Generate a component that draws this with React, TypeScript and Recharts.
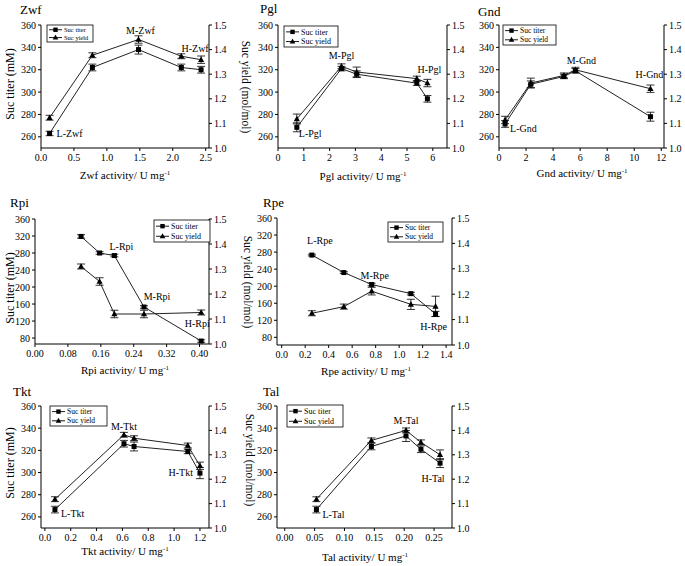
import React from 'react';
import { LineChart, Line, XAxis, YAxis, ErrorBar, LabelList } from 'recharts';

const FONT = '"Liberation Serif", "Times New Roman", Times, serif';

// ---------- data ----------
const zwfActivity = [0.13, 0.78, 1.48, 2.13, 2.43];
const zwfTiter = [263, 322, 338, 322, 320];
const zwfTiterErr = [2, 3, 4, 3, 3];
const zwfYield = [1.123, 1.377, 1.441, 1.373, 1.359];
const zwfYieldErr = [0.01, 0.01, 0.015, 0.01, 0.015];
const zwfLabels = ['L-Zwf', '', 'M-Zwf', '', 'H-Zwf'];
const zwfTicks = [0, 0.5, 1.0, 1.5, 2.0, 2.5];

const pglActivity = [0.73, 2.46, 3.05, 5.38, 5.79];
const pglTiter = [268.5, 321, 316, 308, 294];
const pglTiterErr = [4, 2, 3, 2, 3];
const pglYield = [1.118, 1.332, 1.309, 1.282, 1.264];
const pglYieldErr = [0.02, 0.01, 0.02, 0.01, 0.015];
const pglLabels = ['L-Pgl', 'M-Pgl', '', '', 'H-Pgl'];
const pglTicks = [0, 1, 2, 3, 4, 5, 6];

const gndActivity = [0.45, 2.35, 4.8, 5.65, 11.2];
const gndTiter = [271.5, 307, 314, 319, 278];
const gndTiterErr = [3, 3, 2, 2, 4];
const gndYield = [1.114, 1.264, 1.295, 1.318, 1.241];
const gndYieldErr = [0.015, 0.02, 0.01, 0.01, 0.015];
const gndLabels = ['L-Gnd', '', '', 'M-Gnd', 'H-Gnd'];
const gndTicks = [0, 2, 4, 6, 8, 10, 12];

const rpiActivity = [0.112, 0.157, 0.193, 0.265, 0.404];
const rpiTiter = [319, 280, 274, 153, 73];
const rpiTiterErr = [4, 3, 3, 3, 3];
const rpiYield = [1.31, 1.25, 1.12, 1.12, 1.126];
const rpiYieldErr = [0.01, 0.015, 0.015, 0.015, 0.01];
const rpiLabels = ['', '', 'L-Rpi', 'M-Rpi', 'H-Rpi'];
const rpiTicks = [0, 0.08, 0.16, 0.24, 0.32, 0.4];

const rpeActivity = [0.257, 0.529, 0.766, 1.1, 1.31];
const rpeTiter = [273, 232, 204, 182.5, 135];
const rpeTiterErr = [2, 2, 3, 3, 6];
const rpeYield = [1.125, 1.151, 1.212, 1.16, 1.152];
const rpeYieldErr = [0.01, 0.01, 0.015, 0.02, 0.04];
const rpeLabels = ['L-Rpe', '', 'M-Rpe', '', 'H-Rpe'];
const rpeTicks = [0, 0.2, 0.4, 0.6, 0.8, 1.0, 1.2, 1.4];

const tktActivity = [0.078, 0.612, 0.69, 1.106, 1.2];
const tktTiter = [266.6, 326, 323.5, 319, 299.5];
const tktTiterErr = [3, 3, 4, 2, 5];
const tktYield = [1.118, 1.382, 1.368, 1.338, 1.255];
const tktYieldErr = [0.01, 0.01, 0.01, 0.01, 0.015];
const tktLabels = ['L-Tkt', 'M-Tkt', '', '', 'H-Tkt'];
const tktTicks = [0, 0.2, 0.4, 0.6, 0.8, 1.0, 1.2];

const talActivity = [0.053, 0.145, 0.203, 0.228, 0.26];
const talTiter = [266.6, 323.5, 333, 321, 308.5];
const talTiterErr = [3, 3, 5, 3, 4];
const talYield = [1.118, 1.359, 1.4, 1.351, 1.3];
const talYieldErr = [0.01, 0.01, 0.01, 0.01, 0.02];
const talLabels = ['L-Tal', '', 'M-Tal', '', 'H-Tal'];
const talTicks = [0, 0.05, 0.1, 0.15, 0.2, 0.25];

const titerTicksA = [260, 280, 300, 320, 340, 360];
const titerTicksB = [80, 120, 160, 200, 240, 280, 320, 360];
const yieldTicks = [1.0, 1.1, 1.2, 1.3, 1.4, 1.5];

// ---------- label placement (relative to titer point) ----------
const labelOffsets: Record<string, { dx: number; dy: number; anchor: string }> = {
  'L-Zwf': { dx: 7, dy: 4, anchor: 'start' },
  'M-Zwf': { dx: 2, dy: -16, anchor: 'middle' },
  'H-Zwf': { dx: -6, dy: -18, anchor: 'middle' },
  'L-Pgl': { dx: 2, dy: 10, anchor: 'start' },
  'M-Pgl': { dx: 0, dy: -10, anchor: 'middle' },
  'H-Pgl': { dx: 2, dy: -26, anchor: 'middle' },
  'L-Gnd': { dx: 5, dy: 8, anchor: 'start' },
  'M-Gnd': { dx: 6, dy: -7, anchor: 'middle' },
  'H-Gnd': { dx: -1, dy: -39, anchor: 'middle' },
  'L-Rpi': { dx: 7, dy: -6, anchor: 'middle' },
  'M-Rpi': { dx: 13, dy: -7, anchor: 'middle' },
  'H-Rpi': { dx: -4, dy: -14, anchor: 'middle' },
  'L-Rpe': { dx: 8, dy: -11, anchor: 'middle' },
  'M-Rpe': { dx: 3, dy: -5, anchor: 'middle' },
  'H-Rpe': { dx: -2, dy: 16, anchor: 'middle' },
  'L-Tkt': { dx: 6, dy: 7, anchor: 'start' },
  'M-Tkt': { dx: 0, dy: -14, anchor: 'middle' },
  'H-Tkt': { dx: -7, dy: 3, anchor: 'end' },
  'L-Tal': { dx: 6, dy: 8, anchor: 'start' },
  'M-Tal': { dx: 0, dy: -12, anchor: 'middle' },
  'H-Tal': { dx: -7, dy: 19, anchor: 'middle' },
};

type Cfg = {
  name: string;
  activity: number[]; titer: number[]; titerErr: number[]; yld: number[]; yieldErr: number[]; labels: string[];
  xTicks: number[]; xDec: number; tTicks: number[];
  x0: number; y0: number; w: number; h: number; xDomain: [number, number]; tDomain: [number, number];
};

const panels: Cfg[] = [
  { name: 'Zwf', activity: zwfActivity, titer: zwfTiter, titerErr: zwfTiterErr, yld: zwfYield, yieldErr: zwfYieldErr, labels: zwfLabels, xTicks: zwfTicks, xDec: 1, tTicks: titerTicksA,
    x0: 41, y0: 25, w: 168, h: 123, xDomain: [0, 2.55], tDomain: [250, 360] },
  { name: 'Pgl', activity: pglActivity, titer: pglTiter, titerErr: pglTiterErr, yld: pglYield, yieldErr: pglYieldErr, labels: pglLabels, xTicks: pglTicks, xDec: 0, tTicks: titerTicksA,
    x0: 278, y0: 25, w: 169, h: 123, xDomain: [0, 6.55], tDomain: [250, 360] },
  { name: 'Gnd', activity: gndActivity, titer: gndTiter, titerErr: gndTiterErr, yld: gndYield, yieldErr: gndYieldErr, labels: gndLabels, xTicks: gndTicks, xDec: 0, tTicks: titerTicksA,
    x0: 499, y0: 25, w: 165, h: 123, xDomain: [0, 12.2], tDomain: [250, 360] },
  { name: 'Rpi', activity: rpiActivity, titer: rpiTiter, titerErr: rpiTiterErr, yld: rpiYield, yieldErr: rpiYieldErr, labels: rpiLabels, xTicks: rpiTicks, xDec: 2, tTicks: titerTicksB,
    x0: 35, y0: 219, w: 174, h: 125, xDomain: [0, 0.423], tDomain: [66, 360] },
  { name: 'Rpe', activity: rpeActivity, titer: rpeTiter, titerErr: rpeTiterErr, yld: rpeYield, yieldErr: rpeYieldErr, labels: rpeLabels, xTicks: rpeTicks, xDec: 1, tTicks: titerTicksB,
    x0: 277, y0: 218, w: 175, h: 127, xDomain: [-0.04, 1.45], tDomain: [62, 360] },
  { name: 'Tkt', activity: tktActivity, titer: tktTiter, titerErr: tktTiterErr, yld: tktYield, yieldErr: tktYieldErr, labels: tktLabels, xTicks: tktTicks, xDec: 1, tTicks: titerTicksA,
    x0: 41, y0: 406, w: 168, h: 122, xDomain: [-0.03, 1.27], tDomain: [250, 360] },
  { name: 'Tal', activity: talActivity, titer: talTiter, titerErr: talTiterErr, yld: talYield, yieldErr: talYieldErr, labels: talLabels, xTicks: talTicks, xDec: 2, tTicks: titerTicksA,
    x0: 277, y0: 406, w: 175, h: 122, xDomain: [-0.013, 0.28], tDomain: [250, 360] },
];

const axisStyle = { stroke: '#000', strokeWidth: 1 };
const tickStyle = { fontSize: 10, fill: '#000', fontFamily: FONT };

const Square = (p: any) => {
  if (p.cx == null || p.cy == null) return <g key={`s${p.index}`} />;
  return <rect key={`s${p.index}`} x={p.cx - 2.5} y={p.cy - 2.5} width={5} height={5} fill="#000" />;
};
const Tri = (p: any) => {
  if (p.cx == null || p.cy == null) return <g key={`t${p.index}`} />;
  return <path key={`t${p.index}`} d={`M${p.cx},${p.cy - 3.3}L${p.cx + 3.1},${p.cy + 2.3}L${p.cx - 3.1},${p.cy + 2.3}Z`} fill="#000" />;
};

const renderLabel = (p: any) => {
  const v = p.value;
  if (!v) return null;
  const o = labelOffsets[v];
  const vb = p.viewBox || {};
  const x = p.x ?? vb.x;
  const y = p.y ?? vb.y;
  return (
    <text key={v} x={x + o.dx} y={y + o.dy} textAnchor={o.anchor as any} fontSize={10} fontFamily={FONT} fill="#000">
      {v}
    </text>
  );
};

function Panel({ cfg }: { cfg: Cfg }) {
  const data = cfg.activity.map((a, i) => ({
    x: a, t: cfg.titer[i], te: cfg.titerErr[i], y: cfg.yld[i], ye: cfg.yieldErr[i], lbl: cfg.labels[i],
  }));
  return (
    <div style={{ position: 'absolute', left: cfg.x0 - 40, top: cfg.y0 - 10 }}>
      <LineChart width={cfg.w + 80} height={cfg.h + 40} data={data} margin={{ top: 10, right: 0, bottom: 0, left: 0 }}>
        <XAxis dataKey="x" type="number" domain={cfg.xDomain} ticks={cfg.xTicks} allowDataOverflow interval={0} height={30}
          tickSize={3} tickMargin={3} tick={tickStyle} axisLine={axisStyle} tickLine={axisStyle}
          tickFormatter={(v: number) => v.toFixed(cfg.xDec)} />
        <YAxis yAxisId="t" orientation="left" width={40} domain={cfg.tDomain} ticks={cfg.tTicks} allowDataOverflow interval={0}
          tickSize={3} tickMargin={2} tick={tickStyle} axisLine={axisStyle} tickLine={axisStyle} />
        <YAxis yAxisId="y" orientation="right" width={40} domain={[1.0, 1.5]} ticks={yieldTicks} allowDataOverflow interval={0}
          tickSize={3} tickMargin={2} tick={tickStyle} axisLine={axisStyle} tickLine={axisStyle}
          tickFormatter={(v: number) => v.toFixed(1)} />
        <Line yAxisId="y" dataKey="y" type="linear" stroke="#222" strokeWidth={1} dot={Tri} activeDot={false} isAnimationActive={false}>
          <ErrorBar dataKey="ye" width={4} stroke="#000" strokeWidth={0.8} direction="y" isAnimationActive={false} />
        </Line>
        <Line yAxisId="t" dataKey="t" type="linear" stroke="#222" strokeWidth={1} dot={Square} activeDot={false} isAnimationActive={false}>
          <ErrorBar dataKey="te" width={4} stroke="#000" strokeWidth={0.8} direction="y" isAnimationActive={false} />
          <LabelList dataKey="lbl" content={renderLabel} />
        </Line>
      </LineChart>
    </div>
  );
}

// ---------- overlay text (titles, axis titles, legends) ----------
const panelTitles = [
  { text: 'Zwf', x: 20, y: 14 }, { text: 'Pgl', x: 260, y: 13 }, { text: 'Gnd', x: 478, y: 16 },
  { text: 'Rpi', x: 10, y: 207 }, { text: 'Rpe', x: 263, y: 207 },
  { text: 'Tkt', x: 13, y: 396 }, { text: 'Tal', x: 263, y: 396 },
];
const xTitles = [
  { name: 'Zwf', x: 125, y: 179 }, { name: 'Pgl', x: 363, y: 180 }, { name: 'Gnd', x: 582, y: 177 },
  { name: 'Rpi', x: 125, y: 374 }, { name: 'Rpe', x: 366, y: 375 },
  { name: 'Tkt', x: 125, y: 555 }, { name: 'Tal', x: 365, y: 561 },
];
const leftTitles = [{ x: 14, y: 84 }, { x: 14, y: 288 }, { x: 14, y: 463 }];
const rightTitles = [{ x: 242, y: 87 }, { x: 244, y: 282 }, { x: 246, y: 460 }];
const legends = [
  { x: 47, y: 25, w: 46, h: 17, fs: 6.5 },
  { x: 284, y: 26, w: 54, h: 21, fs: 8 },
  { x: 503, y: 25, w: 53, h: 20, fs: 7.5 },
  { x: 154, y: 220, w: 56, h: 22, fs: 8 },
  { x: 388, y: 222, w: 55, h: 20, fs: 7.5 },
  { x: 50, y: 406, w: 57, h: 20, fs: 7.5 },
  { x: 287, y: 405, w: 56, h: 22, fs: 8 },
];

function LegendBox({ x, y, w, h, fs }: any) {
  const r1 = y + h * 0.28;
  const r2 = y + h * 0.74;
  const mx = x + 8.5;
  return (
    <g>
      <rect x={x} y={y} width={w} height={h} fill="#fff" stroke="#000" strokeWidth={0.8} />
      <line x1={x + 2} x2={x + 15} y1={r1} y2={r1} stroke="#000" strokeWidth={0.9} />
      <rect x={mx - 2.2} y={r1 - 2.2} width={4.4} height={4.4} fill="#000" />
      <text x={x + 17} y={r1 + fs * 0.33} fontSize={fs} fontFamily={FONT}>Suc titer</text>
      <line x1={x + 2} x2={x + 15} y1={r2} y2={r2} stroke="#000" strokeWidth={0.9} />
      <path d={`M${mx},${r2 - 3}L${mx + 2.8},${r2 + 2}L${mx - 2.8},${r2 + 2}Z`} fill="#000" />
      <text x={x + 17} y={r2 + fs * 0.33} fontSize={fs} fontFamily={FONT}>Suc yield</text>
    </g>
  );
}

export default function App() {
  return (
    <div style={{ position: 'absolute', left: 0, top: 0, width: 685, height: 566, background: '#fff', overflow: 'hidden' }}>
      {panels.map((p) => <Panel key={p.name} cfg={p} />)}
      <svg width={685} height={566} style={{ position: 'absolute', left: 0, top: 0, pointerEvents: 'none' }}>
        {panelTitles.map((t) => (
          <text key={t.text} x={t.x} y={t.y} fontSize={13} fontFamily={FONT} fill="#000">{t.text}</text>
        ))}
        {xTitles.map((t) => (
          <text key={t.name} x={t.x} y={t.y} fontSize={11} fontFamily={FONT} textAnchor="middle" fill="#000">
            {`${t.name} activity/ U mg`}
            <tspan dy={-4} fontSize={7}>-1</tspan>
          </text>
        ))}
        {leftTitles.map((t, i) => (
          <text key={`l${i}`} transform={`translate(${t.x},${t.y}) rotate(-90)`} fontSize={12} fontFamily={FONT} textAnchor="middle" fill="#000">Suc titer (mM)</text>
        ))}
        {rightTitles.map((t, i) => (
          <text key={`r${i}`} transform={`translate(${t.x},${t.y}) rotate(90)`} fontSize={11.5} fontFamily={FONT} textAnchor="middle" fill="#000">Suc yield (mol/mol)</text>
        ))}
        {legends.map((l, i) => <LegendBox key={i} {...l} />)}
      </svg>
    </div>
  );
}
